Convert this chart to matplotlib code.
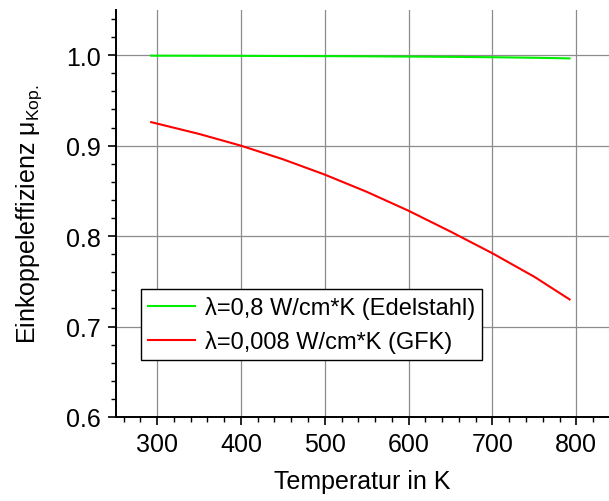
import matplotlib
matplotlib.use('Agg')
import matplotlib.pyplot as plt
from matplotlib.ticker import MultipleLocator

plt.rcParams['font.family'] = ['Liberation Sans', 'DejaVu Sans']
plt.rcParams['mathtext.fontset'] = 'custom'
plt.rcParams['mathtext.rm'] = 'Liberation Sans'
plt.rcParams['mathtext.it'] = 'Liberation Sans:italic'

# Temperatur in K
temp = [293, 350, 400, 450, 500, 550, 600, 650, 700, 750, 792]
# Edelstahl
mu_steel = [0.9995, 0.9994, 0.9993, 0.9991, 0.9990, 0.9988, 0.9985, 0.9982, 0.9978, 0.9972, 0.9965]
# GFK
mu_gfk = [0.926, 0.913, 0.900, 0.885, 0.868, 0.849, 0.828, 0.805, 0.781, 0.755, 0.730]

labels = ['λ=0,8 W/cm*K (Edelstahl)', 'λ=0,008 W/cm*K (GFK)']

fig = plt.figure(figsize=(6.09, 5.02), dpi=100)
ax = fig.add_axes([116/609, 84/502, 493/609, 407/502])

ax.plot(temp, mu_steel, color='#00ee00', lw=1.5, label=labels[0])
ax.plot(temp, mu_gfk, color='#ff0000', lw=1.5, label=labels[1])

ax.set_xlim(251, 839)
ax.set_ylim(0.6, 1.05)
ax.xaxis.set_major_locator(MultipleLocator(100))
ax.xaxis.set_minor_locator(MultipleLocator(20))
ax.yaxis.set_major_locator(MultipleLocator(0.1))
ax.yaxis.set_minor_locator(MultipleLocator(0.02))
ax.yaxis.set_major_formatter(plt.FuncFormatter(lambda v, p: f'{v:.1f}'))

ax.grid(True, which='major', color='#8c8c8c', lw=0.9)
ax.set_axisbelow(True)
for s in ['top', 'right']:
    ax.spines[s].set_visible(False)
for s in ['left', 'bottom']:
    ax.spines[s].set_linewidth(1.4)

ax.tick_params(which='major', direction='out', length=6, width=1.2, labelsize=18, pad=5)
ax.tick_params(which='minor', direction='out', length=3.5, width=1.0)

ax.set_xlabel('Temperatur in K', fontsize=18, labelpad=9)
ax.set_ylabel('Einkoppeleffizienz μ$_{\\mathrm{Kop.}}$', fontsize=18, labelpad=16)

leg = ax.legend(loc='lower left', bbox_to_anchor=(25/493, 57/407), fontsize=17,
                frameon=True, fancybox=False, framealpha=1, edgecolor='black',
                handlelength=2.0, borderpad=0.3, labelspacing=0.45,
                handletextpad=0.4, borderaxespad=0)
leg.get_frame().set_linewidth(1.0)

fig.savefig('out.png', dpi=100)
